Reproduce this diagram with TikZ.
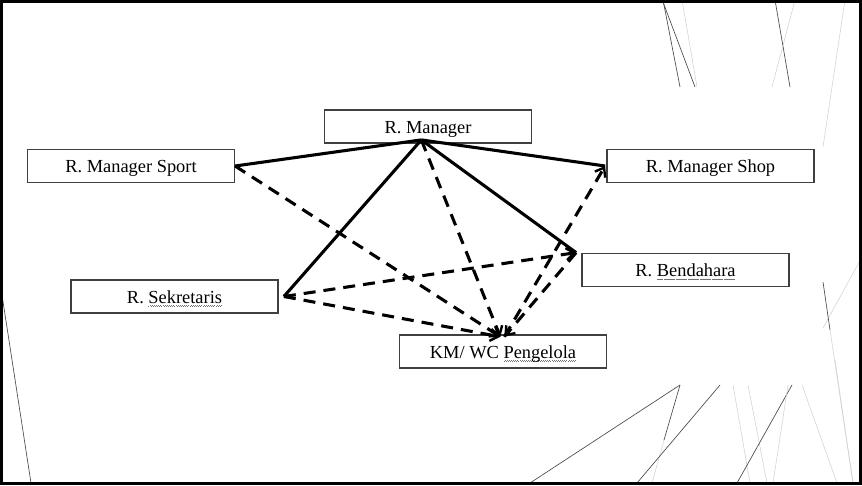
\documentclass[tikz,border=0pt]{standalone}
\usepackage{fontspec}
\setmainfont{Liberation Serif}
\usetikzlibrary{arrows.meta}
\newcommand\spellwave[1]{\setbox0\hbox{#1}\rlap{\textcolor{black!55}{\raisebox{-2.6pt}{\hbox to \wd0{\xleaders\hbox to 1.6pt{\rule{0.5pt}{0.5pt}\hfil\rule[0.6pt]{0.5pt}{0.5pt}\hfil}\hfill}}}}\box0}
\tikzset{
  room/.style={draw=black!75, line width=1.1pt, fill=white, minimum width=155pt, minimum height=25pt, inner sep=0pt, text height=10pt, text depth=0pt, font=\fontsize{13.8}{16}\selectfont},
  solidlink/.style={line width=2.3pt},
  dashlink/.style={line width=2.3pt, dash pattern=on 9pt off 6pt, -{Straight Barb[length=6pt,width=9pt,line width=1.8pt]}},
  decodark/.style={line width=0.5pt, draw=black!70},
  decolight/.style={line width=0.4pt, draw=black!18},
}
\begin{document}
\begin{tikzpicture}[x=0.75pt,y=-0.75pt]
\useasboundingbox (0,0) rectangle (862,485);
\fill[white] (0,0) rectangle (862,485);
% decorative background lines
\draw[decodark] (663,0) -- (680,87);
\draw[decodark] (663,2) -- (695,87);
\draw[decolight] (682,0) -- (697,87);
\draw[decodark] (775,0) -- (790,87);
\draw[decolight] (795,0) -- (772,87);
\draw[decolight] (845,0) -- (823,147);
\draw[decolight] (862,257) -- (823,328);
\draw[decodark] (823,282) -- (830,330);
\draw[decolight] (830,330) -- (853,483);
\draw[decodark] (530,483) -- (680,385);
\draw[decodark] (680,385) -- (664,440);
\draw[decolight] (664,440) -- (652,483);
\draw[decodark] (637,483) -- (720,385);
\draw[decolight] (733,385) -- (750,483);
\draw[decolight] (748,385) -- (767,483);
\draw[decodark] (737,483) -- (792,385);
\draw[decolight] (773,483) -- (788,385);
\draw[decolight] (802,385) -- (837,483);
\draw[decolight] (835,360) -- (853,483);
\draw[decodark] (2,295) -- (31,483);
% rooms
\node[room] (mgr)   at (428,126.5) {R. Manager};
\node[room] (sport) at (131,166)   {R. Manager Sport};
\node[room] (shop)  at (710.5,166) {R. Manager Shop};
\node[room] (bend)  at (685.5,270) {R. \spellwave{Bendahara}};
\node[room] (sek)   at (174.5,296.5) {R. \spellwave{Sekretaris}};
\node[room] (km)    at (503,351.5) {KM/ WC \spellwave{Pengelola}};
% connection points
\coordinate (hub)   at ([xshift=-5,yshift=3]mgr.south);
\coordinate (bendp) at ([xshift=-4]bend.north west);
\coordinate (sekp)  at ([xshift=4]sek.east);
\coordinate (kmp)   at ([xshift=-2,yshift=-2]km.north);
\coordinate (kmq)   at ([xshift=1,yshift=-2]km.north);
% solid links
\draw[solidlink] (hub) -- (sport.east);
\draw[solidlink] (hub) -- ([xshift=-1]shop.west);
\draw[solidlink] (hub) -- (bendp);
\draw[solidlink] (hub) -- (sekp);
% dashed links
\draw[dashlink] (sport.east) -- (kmp);
\draw[dashlink] (hub) -- (kmp);
\draw[dashlink] (sekp) -- (kmp);
\draw[dashlink] (sekp) -- (bendp);
\draw[dashlink] (bendp) -- (kmq);
\draw[dashlink] (kmq) -- ([xshift=-1]shop.west);
% frame
\draw[line width=2.2pt] (1.5,1.5) rectangle (860.5,483.5);
\end{tikzpicture}
\end{document}
